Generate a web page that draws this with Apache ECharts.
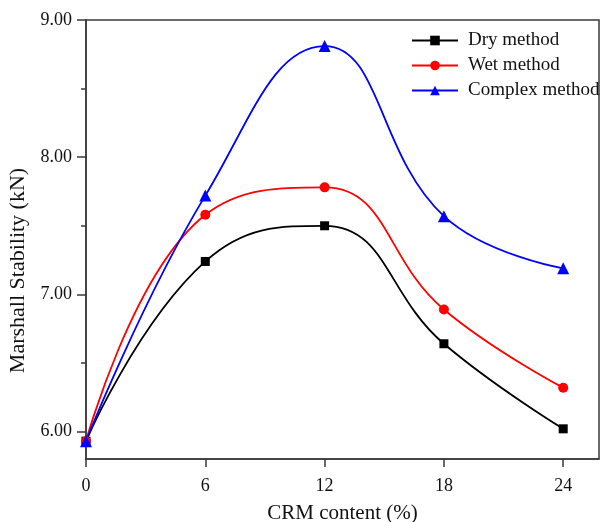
<!DOCTYPE html>
<html>
<head>
<meta charset="utf-8">
<script src="https://cdn.jsdelivr.net/npm/echarts@6/dist/echarts.min.js"></script>
<style>html,body{margin:0;padding:0;background:#fff;}#c{width:601px;height:522px;}</style>
</head>
<body>
<div id="c"></div>
<script>
var crmContent = [0, 6, 12, 18, 24];
var dryMethod = [5.93, 7.24, 7.50, 6.64, 6.02];
var wetMethod = [5.93, 7.58, 7.78, 6.89, 6.32];
var complexMethod = [5.93, 7.72, 8.81, 7.57, 7.19];
var xTicks = [0, 6, 12, 18, 24];
var yTicks = [6, 7, 8, 9];
var yMinorTicks = [6.5, 7.5, 8.5];

function pairs(ys) { return crmContent.map(function (x, i) { return [x, ys[i]]; }); }

var font = '"Liberation Serif", "Times New Roman", serif';
var axisColor = '#3a3a3a';
var chart = echarts.init(document.getElementById('c'), null, { renderer: 'canvas' });
chart.setOption({
  animation: false,
  backgroundColor: '#fff',
  grid: { left: 86, top: 20, right: 2, bottom: 63, show: true, borderColor: axisColor, borderWidth: 1.5,
    containLabel: false, outerBoundsMode: 'none' },
  legend: {
    orient: 'vertical', left: 411, top: 31, padding: 0,
    itemWidth: 46, itemHeight: 12, itemGap: 6,
    textStyle: { fontFamily: font, fontSize: 19, color: '#111', padding: [0, 0, 0, 5] },
    data: ['Dry method', 'Wet method', 'Complex method']
  },
  xAxis: {
    type: 'value', min: 0, max: 25.8,
    name: 'CRM content (%)', nameLocation: 'middle', nameGap: 44,
    nameTextStyle: { fontFamily: font, fontSize: 21, color: '#111' },
    axisLine: { show: true, lineStyle: { color: axisColor, width: 1.5 } },
    axisTick: { show: true, customValues: xTicks, length: 8, lineStyle: { color: axisColor, width: 1.5 } },
    axisLabel: { customValues: xTicks, fontFamily: font, fontSize: 18, color: '#111', margin: 18 },
    splitLine: { show: false }
  },
  yAxis: [{
    type: 'value', min: 5.8, max: 9,
    name: 'Marshall Stability (kN)', nameLocation: 'middle', nameGap: 56,
    nameTextStyle: { fontFamily: font, fontSize: 22, color: '#111', padding: [0, 62, 0, 0] },
    axisLine: { show: true, lineStyle: { color: axisColor, width: 1.5 } },
    axisTick: { show: true, customValues: yTicks, length: 9, lineStyle: { color: axisColor, width: 1.5 } },
    axisLabel: { customValues: yTicks, fontFamily: font, fontSize: 18, color: '#111', margin: 14,
      formatter: function (v) { return v.toFixed(2); } },
    splitLine: { show: false }
  }, {
    type: 'value', min: 5.8, max: 9, position: 'left', offset: 0,
    axisLine: { show: false },
    axisTick: { show: true, customValues: yMinorTicks, length: 5, lineStyle: { color: axisColor, width: 1.5 } },
    axisLabel: { show: false },
    splitLine: { show: false }
  }],
  series: [
    { name: 'Dry method', type: 'line', smooth: 0.45, data: pairs(dryMethod), symbol: 'rect', symbolSize: 9,
      itemStyle: { color: '#000' }, lineStyle: { color: '#000', width: 1.8 } },
    { name: 'Wet method', type: 'line', smooth: 0.45, data: pairs(wetMethod), symbol: 'circle', symbolSize: 10,
      itemStyle: { color: '#ff0000' }, lineStyle: { color: '#ff0000', width: 1.8 } },
    { name: 'Complex method', type: 'line', smooth: 0.45, data: pairs(complexMethod), symbol: 'triangle', symbolSize: 12,
      itemStyle: { color: '#0000ff' }, lineStyle: { color: '#0000ff', width: 1.8 } }
  ]
});
</script>
</body>
</html>
